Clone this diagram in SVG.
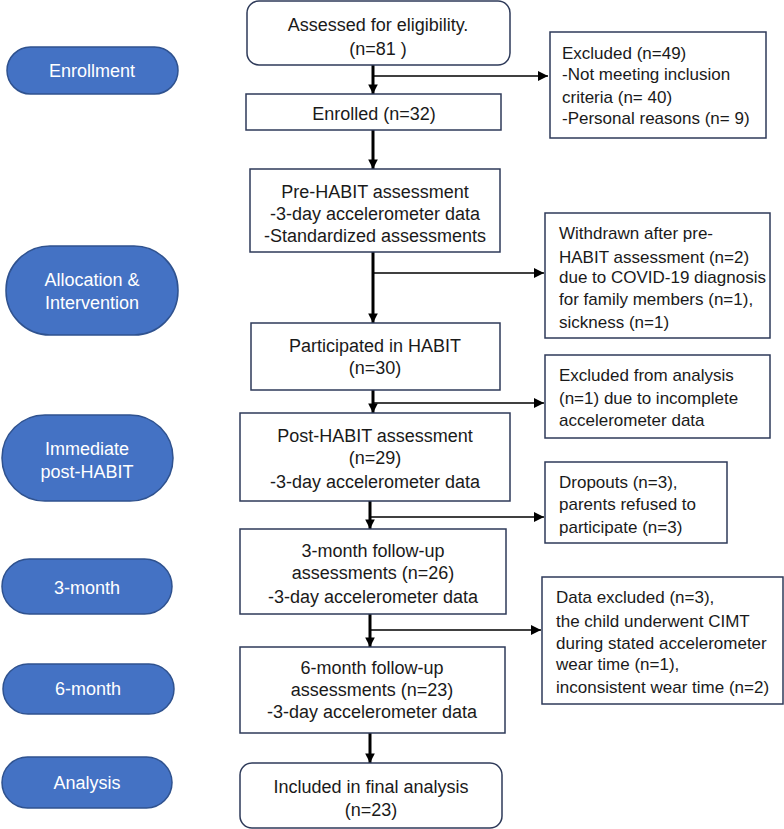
<svg xmlns="http://www.w3.org/2000/svg" width="784" height="829" viewBox="0 0 784 829">
<defs>
<marker id="ah" viewBox="0 0 10 10" refX="10" refY="5" markerWidth="10" markerHeight="10" markerUnits="userSpaceOnUse" orient="auto"><path d="M0,0 L10,5 L0,10 Z" fill="#000"/></marker>
<marker id="ahb" viewBox="0 0 10 10" refX="10" refY="5" markerWidth="3.2" markerHeight="3.2" orient="auto"><path d="M0,0 L10,5 L0,10 Z" fill="#000"/></marker>
</defs>
<style>
.pill{fill:#4472C4;stroke:#2F528F;stroke-width:1.5}
.pt{fill:#fff;font-family:"Liberation Sans",Arial,sans-serif;font-size:18px;text-anchor:middle}
.box{fill:#fff;stroke:#2E3A59;stroke-width:1.5}
.mt{fill:#1a1a1a;font-family:"Liberation Sans",Arial,sans-serif;font-size:18px;text-anchor:middle}
.st{fill:#1a1a1a;font-family:"Liberation Sans",Arial,sans-serif;font-size:17px}
.main{stroke:#000;stroke-width:3;fill:none}
.side{stroke:#000;stroke-width:1.5;fill:none}
</style>
<rect width="784" height="829" fill="#fff"/>

<g id="stage-enrollment"><rect class="pill" x="7" y="47" width="171" height="47" rx="23.5"/><text class="pt" x="92" y="77">Enrollment</text></g>
<g id="stage-allocation"><rect class="pill" x="6" y="246" width="172" height="89" rx="44"/><text class="pt" x="92" y="286">Allocation &amp;</text><text class="pt" x="92" y="309">Intervention</text></g>
<g id="stage-immediate"><rect class="pill" x="2" y="415" width="171" height="86" rx="43"/><text class="pt" x="87" y="455">Immediate</text><text class="pt" x="87" y="478">post-HABIT</text></g>
<g id="stage-3month"><rect class="pill" x="2" y="559" width="170" height="55" rx="27.5"/><text class="pt" x="87" y="594">3-month</text></g>
<g id="stage-6month"><rect class="pill" x="3" y="664" width="171" height="50" rx="25"/><text class="pt" x="88" y="695">6-month</text></g>
<g id="stage-analysis"><rect class="pill" x="2" y="757" width="170" height="51" rx="25.5"/><text class="pt" x="87" y="789">Analysis</text></g>

<g id="connectors">
<line class="main" x1="373" y1="65" x2="373" y2="94" marker-end="url(#ahb)"/>
<line class="main" x1="373" y1="130" x2="373" y2="169" marker-end="url(#ahb)"/>
<line class="main" x1="373" y1="252" x2="373" y2="323" marker-end="url(#ahb)"/>
<line class="main" x1="373" y1="390" x2="373" y2="413" marker-end="url(#ahb)"/>
<line class="main" x1="370" y1="501" x2="370" y2="529" marker-end="url(#ahb)"/>
<line class="main" x1="370" y1="614" x2="370" y2="647" marker-end="url(#ahb)"/>
<line class="main" x1="370" y1="733" x2="370" y2="763" marker-end="url(#ahb)"/>
<line class="side" x1="373" y1="76" x2="548" y2="76" marker-end="url(#ah)"/>
<line class="side" x1="373" y1="273" x2="544" y2="273" marker-end="url(#ah)"/>
<line class="side" x1="373" y1="403" x2="544" y2="403" marker-end="url(#ah)"/>
<line class="side" x1="370" y1="517" x2="544" y2="517" marker-end="url(#ah)"/>
<line class="side" x1="370" y1="630" x2="541" y2="630" marker-end="url(#ah)"/>
</g>

<g id="assessed"><rect class="box" x="247" y="1" width="263" height="64" rx="12"/><text class="mt" x="378" y="31">Assessed for eligibility.</text><text class="mt" x="378" y="55">(n=81 )</text></g>
<g id="enrolled"><rect class="box" x="246" y="94" width="255" height="36"/><text class="mt" x="374" y="120">Enrolled (n=32)</text></g>
<g id="pre-habit"><rect class="box" x="250" y="169" width="250" height="83"/><text class="mt" x="375" y="198">Pre-HABIT assessment</text><text class="mt" x="375" y="220">-3-day accelerometer data</text><text class="mt" x="375" y="242">-Standardized assessments</text></g>
<g id="participated"><rect class="box" x="251" y="323" width="249" height="67"/><text class="mt" x="375" y="352">Participated in HABIT</text><text class="mt" x="375" y="374">(n=30)</text></g>
<g id="post-habit"><rect class="box" x="240" y="413" width="270" height="88"/><text class="mt" x="375" y="442">Post-HABIT assessment</text><text class="mt" x="375" y="464">(n=29)</text><text class="mt" x="375" y="488">-3-day accelerometer data</text></g>
<g id="three-month"><rect class="box" x="240" y="529" width="266" height="85"/><text class="mt" x="373" y="557">3-month follow-up</text><text class="mt" x="373" y="579">assessments (n=26)</text><text class="mt" x="373" y="603">-3-day accelerometer data</text></g>
<g id="six-month"><rect class="box" x="240" y="647" width="265" height="86"/><text class="mt" x="372" y="674">6-month follow-up</text><text class="mt" x="372" y="696">assessments (n=23)</text><text class="mt" x="372" y="718">-3-day accelerometer data</text></g>
<g id="final"><rect class="box" x="240" y="763" width="262" height="65" rx="12"/><text class="mt" x="371" y="793">Included in final analysis</text><text class="mt" x="371" y="816">(n=23)</text></g>

<g id="excluded"><rect class="box" x="550" y="32" width="216" height="106"/><text class="st" x="562" y="59">Excluded (n=49)</text><text class="st" x="562" y="80">-Not meeting inclusion</text><text class="st" x="562" y="103">criteria (n= 40)</text><text class="st" x="562" y="124">-Personal reasons (n= 9)</text></g>
<g id="withdrawn"><rect class="box" x="545" y="213" width="225" height="125"/><text class="st" x="559" y="239">Withdrawn after pre-</text><text class="st" x="559" y="263">HABIT assessment (n=2)</text><text class="st" x="559" y="283">due to COVID-19 diagnosis</text><text class="st" x="559" y="305">for family members (n=1),</text><text class="st" x="559" y="328">sickness (n=1)</text></g>
<g id="excluded-analysis"><rect class="box" x="545" y="355" width="225" height="83"/><text class="st" x="559" y="381">Excluded from analysis</text><text class="st" x="559" y="404">(n=1) due to incomplete</text><text class="st" x="559" y="426">accelerometer data</text></g>
<g id="dropouts"><rect class="box" x="545" y="462" width="182" height="81"/><text class="st" x="559" y="488">Dropouts (n=3),</text><text class="st" x="559" y="510">parents refused to</text><text class="st" x="559" y="533">participate (n=3)</text></g>
<g id="data-excluded"><rect class="box" x="542" y="577" width="241" height="127"/><text class="st" x="556" y="603">Data excluded (n=3),</text><text class="st" x="556" y="627">the child underwent CIMT</text><text class="st" x="556" y="649">during stated accelerometer</text><text class="st" x="556" y="670">wear time (n=1),</text><text class="st" x="556" y="693">inconsistent wear time (n=2)</text></g>
</svg>
